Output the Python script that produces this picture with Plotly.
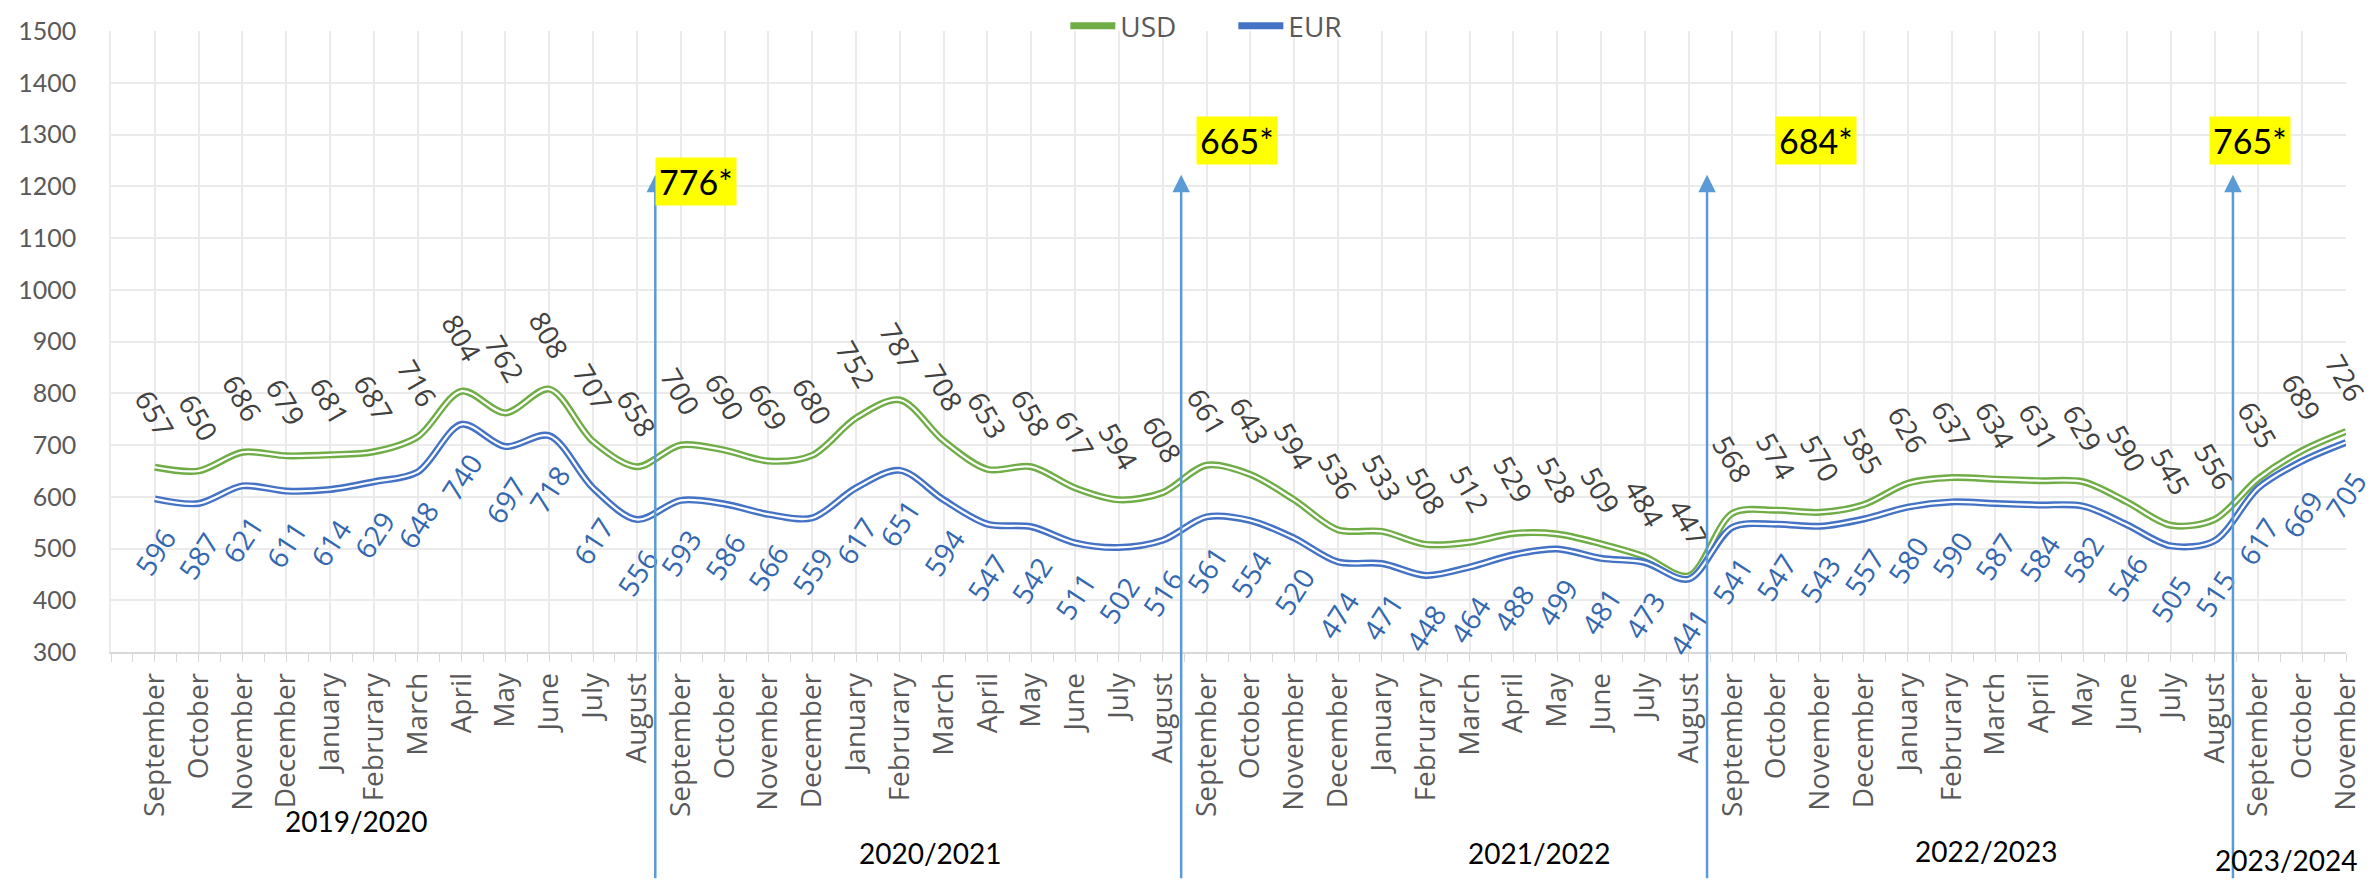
"""
Monthly average price in USD and EUR, Sep 2019 - Nov 2023, with season markers.
"""

import plotly.graph_objects as go

MONTHS_ONE_SEASON = [
    "September", "October", "November", "December", "January", "Februrary",
    "March", "April", "May", "June", "July", "August",
]
MONTHS = MONTHS_ONE_SEASON * 4 + MONTHS_ONE_SEASON[:3]

USD = [
    657, 650, 686, 679, 681, 687, 716, 804, 762, 808, 707, 658,
    700, 690, 669, 680, 752, 787, 708, 653, 658, 617, 594, 608,
    661, 643, 594, 536, 533, 508, 512, 529, 528, 509, 484, 447,
    568, 574, 570, 585, 626, 637, 634, 631, 629, 590, 545, 556,
    635, 689, 726,
]
EUR = [
    596, 587, 621, 611, 614, 629, 648, 740, 697, 718, 617, 556,
    593, 586, 566, 559, 617, 651, 594, 547, 542, 511, 502, 516,
    561, 554, 520, 474, 471, 448, 464, 488, 499, 481, 473, 441,
    541, 547, 543, 557, 580, 590, 587, 584, 582, 546, 505, 515,
    617, 669, 705,
]

SEASONS = ["2019/2020", "2020/2021", "2021/2022", "2022/2023", "2023/2024"]
# last month index of each finished season (August)
SEASON_ENDS = [11, 23, 35, 47]
SEASON_MARKS = ["776*", "665*", "684*", "765*"]

USD_COLOR = "#70AD47"
EUR_COLOR = "#4472C4"
ARROW_COLOR = "#5B9BD5"
GRID = "#EBEBEB"
AXIS_GREY = "#D9D9D9"
TEXT_GREY = "#595959"

x = list(range(len(MONTHS)))

fig = go.Figure()
for name, values, color in (("USD", USD, USD_COLOR), ("EUR", EUR, EUR_COLOR)):
    # excel style "double" line: thick coloured stroke with a thin white core
    fig.add_trace(go.Scatter(
        x=x, y=values, name=name, mode="lines",
        line=dict(color=color, width=7, shape="spline", smoothing=0.9),
        hoverinfo="skip",
    ))
    fig.add_trace(go.Scatter(
        x=x, y=values, mode="lines", showlegend=False,
        line=dict(color="white", width=2.2, shape="spline", smoothing=0.9),
        hovertemplate=name + " %{y}<extra></extra>",
    ))

annotations = []
for i, (u, e) in enumerate(zip(USD, EUR)):
    annotations.append(dict(
        x=i, y=u, text=str(u), showarrow=False, textangle=60, yshift=54,
        font=dict(family="Open Sans", size=28, color="#404040"),
    ))
    annotations.append(dict(
        x=i, y=e, text=str(e), showarrow=False, textangle=-57, yshift=-53,
        font=dict(family="Open Sans", size=28, color="#3367B0"),
    ))

# season split arrows
for end in SEASON_ENDS:
    annotations.append(dict(
        x=end + 0.42, y=1222, ax=end + 0.42, ay=-140, axref="x", ayref="y",
        text="", showarrow=True, arrowhead=2, arrowsize=1.4, arrowwidth=2.5,
        arrowcolor=ARROW_COLOR, standoff=0,
    ))

mark_pos = [(12.35, 1210), (24.7, 1289), (37.9, 1289), (47.8, 1289)]
for label, (mx, my) in zip(SEASON_MARKS, mark_pos):
    annotations.append(dict(
        x=mx, y=my, text=label, showarrow=False, bgcolor="#FFFF00", borderpad=3,
        font=dict(family="Lato", size=34, color="black"),
    ))

season_pos = [(4.6, -0.303), (17.7, -0.354), (31.6, -0.354), (41.8, -0.351), (48.65, -0.365)]
for label, (sx, sy) in zip(SEASONS, season_pos):
    annotations.append(dict(
        x=sx, y=sy, xref="x", yref="paper", text=label, showarrow=False,
        font=dict(family="Lato", size=28, color="black"),
    ))

fig.update_layout(
    width=2376,
    height=886,
    margin=dict(l=103, r=38, t=23, b=242, autoexpand=False),
    plot_bgcolor="white",
    paper_bgcolor="white",
    showlegend=True,
    legend=dict(
        orientation="h", x=0.427, xanchor="left", y=1.008, yanchor="middle",
        font=dict(family="Open Sans", size=28, color=TEXT_GREY),
        bgcolor="rgba(0,0,0,0)", itemwidth=45, entrywidth=108,
    ),
    annotations=annotations,
)
fig.update_xaxes(
    range=[-1, len(MONTHS) - 1],
    tickmode="array", tickvals=x, ticktext=MONTHS, tickangle=-90,
    tickfont=dict(family="Open Sans", size=28, color=TEXT_GREY),
    ticks="outside", ticklen=8, tickcolor=AXIS_GREY,
    minor=dict(dtick=0.5, tick0=-1, ticks="outside", ticklen=8, tickcolor=AXIS_GREY, showgrid=False),
    showgrid=True, gridcolor=GRID, gridwidth=1.5,
    showline=True, linecolor=AXIS_GREY, linewidth=1.5, zeroline=False,
    automargin=False,
)
fig.update_yaxes(
    range=[300, 1500], dtick=100,
    tickfont=dict(family="Lato", size=25, color=TEXT_GREY),
    ticklabelstandoff=28,
    showgrid=True, gridcolor=GRID, gridwidth=1.5,
    showline=True, linecolor=GRID, linewidth=1.5, zeroline=False,
    automargin=False,
)

fig.write_html("out.html")
